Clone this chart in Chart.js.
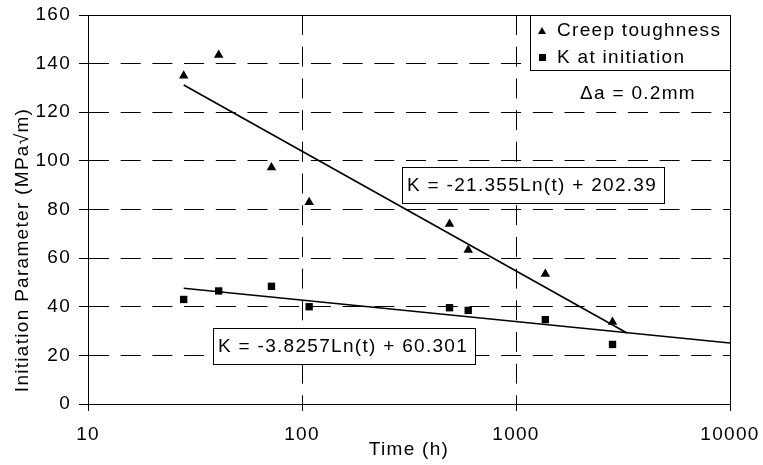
<!DOCTYPE html>
<html>
<head>
<meta charset="utf-8">
<script src="https://cdn.jsdelivr.net/npm/chart.js@4.4.1/dist/chart.umd.min.js"></script>
<style>
  html, body { margin: 0; padding: 0; background: #fff; }
  canvas { display: block; }
</style>
</head>
<body>
<canvas id="myChart" width="763" height="465"></canvas>
<script>
const timeHours = [28, 40.8, 72, 108, 489, 598, 1371, 2825];
const creepToughness = [135, 143.5, 97.3, 83, 74, 63.3, 53.5, 33.7];
const kAtInitiation = [43, 46.5, 48.4, 40, 39.6, 38.5, 34.7, 24.5];

// log fit lines (end points)
const creepFitTime = [28, 3300];
const creepFitValue = [131.2, 29.2];
const initFitTime = [28, 10000];
const initFitValue = [47.6, 25.1];

const timeTicks = [10, 100, 1000, 10000];
const yMin = 0, yMax = 160, yStep = 20;

const FONT = "'Liberation Sans', Arial, sans-serif";
const FONT_SIZE = 19;
const SPACING = '1.3px';

const pts = (xs, ys) => xs.map((x, i) => ({ x: x, y: ys[i] }));

function drawText(ctx, text, x, y, align) {
    ctx.textAlign = align || 'left';
    ctx.textBaseline = 'middle';
    ctx.fillText(text, x, y);
}

function drawBox(ctx, text, x, y, w, h) {
    ctx.fillStyle = '#fff';
    ctx.fillRect(x, y, w, h);
    ctx.strokeStyle = '#000';
    ctx.lineWidth = 1;
    ctx.strokeRect(x + 0.5, y + 0.5, w, h);
    ctx.fillStyle = '#000';
    drawText(ctx, text, x + 5, y + h / 2 + 1);
}

// keep the plot area where the labels would otherwise push it
const noPad = (s) => {
    s.paddingLeft = 0; s.paddingRight = 0;
    s.paddingTop = 0; s.paddingBottom = 0;
};

const decor = {
    id: 'decor',
    beforeLayout(chart) {
        chart.ctx.letterSpacing = SPACING;
    },
    beforeDraw(chart) {
        const ctx = chart.ctx;
        ctx.save();
        ctx.fillStyle = '#fff';
        ctx.fillRect(0, 0, chart.width, chart.height);
        ctx.restore();
        ctx.letterSpacing = SPACING;
    },
    afterDatasetsDraw(chart) {
        const ctx = chart.ctx;
        const a = chart.chartArea;
        ctx.save();
        ctx.letterSpacing = SPACING;
        ctx.font = FONT_SIZE + 'px ' + FONT;

        // plot frame
        ctx.strokeStyle = '#000';
        ctx.lineWidth = 1;
        ctx.strokeRect(Math.round(a.left) + 0.5, Math.round(a.top) + 0.5,
            Math.round(a.right - a.left), Math.round(a.bottom - a.top));

        // legend
        ctx.fillStyle = '#fff';
        ctx.fillRect(530, 15, 200, 55);
        ctx.strokeRect(530.5, 15.5, 200, 55);
        ctx.fillStyle = '#000';
        ctx.beginPath();
        ctx.moveTo(542, 27); ctx.lineTo(546, 34); ctx.lineTo(538, 34); ctx.closePath();
        ctx.fill();
        ctx.fillRect(539, 54, 7, 7);
        drawText(ctx, 'Creep toughness', 557, 31);
        drawText(ctx, 'K at initiation', 557, 58);

        drawText(ctx, '\u0394a = 0.2mm', 580, 94);

        // fit equations
        drawBox(ctx, 'K = -21.355Ln(t) + 202.39', 402, 167, 262, 36);
        drawBox(ctx, 'K = -3.8257Ln(t) + 60.301', 213, 328, 262, 36);

        // axis titles
        drawText(ctx, 'Time (h)', (a.left + a.right) / 2, 450, 'center');
        ctx.translate(23, 250);
        ctx.rotate(-Math.PI / 2);
        drawText(ctx, 'Initiation Parameter (MPa\u221Am)', 0, 0, 'center');
        ctx.restore();
    }
};

Chart.defaults.font.family = FONT;
Chart.defaults.font.size = FONT_SIZE;
Chart.defaults.color = '#000';

const ctx = document.getElementById('myChart').getContext('2d');
new Chart(ctx, {
    type: 'scatter',
    data: {
        datasets: [
            {
                label: 'Creep toughness',
                data: pts(timeHours, creepToughness),
                pointStyle: 'triangle',
                pointRadius: 5.5,
                backgroundColor: '#000',
                borderWidth: 0
            },
            {
                label: 'K at initiation',
                data: pts(timeHours, kAtInitiation),
                pointStyle: 'rect',
                pointRadius: 5.2,
                backgroundColor: '#000',
                borderWidth: 0
            },
            {
                label: 'creep fit',
                data: pts(creepFitTime, creepFitValue),
                showLine: true,
                pointRadius: 0,
                borderColor: '#000',
                borderWidth: 1.6
            },
            {
                label: 'initiation fit',
                data: pts(initFitTime, initFitValue),
                showLine: true,
                pointRadius: 0,
                borderColor: '#000',
                borderWidth: 1.6
            }
        ]
    },
    options: {
        responsive: false,
        animation: false,
        devicePixelRatio: 1,
        layout: { padding: { top: 15, right: 33, left: 0, bottom: 0 } },
        plugins: {
            legend: { display: false },
            tooltip: { enabled: false }
        },
        scales: {
            x: {
                type: 'logarithmic',
                min: timeTicks[0],
                max: timeTicks[timeTicks.length - 1],
                afterBuildTicks: (s) => { s.ticks = timeTicks.map(v => ({ value: v })); },
                afterFit: (s) => { s.height = 61; noPad(s); },
                ticks: {
                    autoSkip: false,
                    maxRotation: 0,
                    padding: 12,
                    callback: (v) => String(v)
                },
                grid: { color: '#000', lineWidth: 1, tickLength: 7, tickColor: '#000' },
                border: { color: '#000', width: 1, dash: [20, 11.7] }
            },
            y: {
                min: yMin,
                max: yMax,
                afterFit: (s) => { s.width = 88; noPad(s); },
                ticks: { stepSize: yStep, padding: 8 },
                grid: { color: '#000', lineWidth: 1, tickLength: 9, tickColor: '#000' },
                border: { color: '#000', width: 1, dash: [20, 11.7] }
            }
        }
    },
    plugins: [decor]
});
</script>
</body>
</html>
